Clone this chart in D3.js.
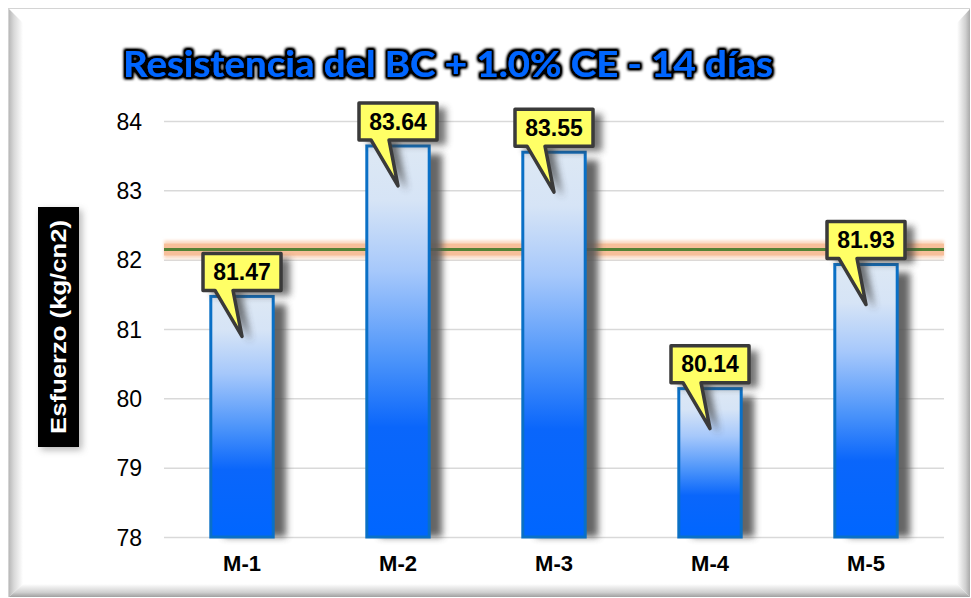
<!DOCTYPE html>
<html>
<head>
<meta charset="utf-8">
<script src="https://cdn.jsdelivr.net/npm/d3@7"></script>
<style>
  html, body { margin: 0; padding: 0; background: #ffffff; }
  svg { display: block; }
</style>
</head>
<body>
<svg id="chart" width="971" height="598"></svg>
<script>
// Compressive strength per sample, 14 days
const categories = ["M-1", "M-2", "M-3", "M-4", "M-5"];
const values = [81.47, 83.64, 83.55, 80.14, 81.93];
const yTicks = [78, 79, 80, 81, 82, 83, 84];
const titleText = "Resistencia del BC + 1.0% CE - 14 días";
const yLabel = "Esfuerzo (kg/cn2)";

const W = 971, H = 598;
const margin = { top: 121, right: 27, bottom: 61, left: 164 };
const svg = d3.select("#chart");
const defs = svg.append("defs");
const sans = "'Liberation Sans', Arial, sans-serif";

// gradients and filters
const barGrad = defs.append("linearGradient").attr("id", "barGrad")
  .attr("x1", 0).attr("y1", 0).attr("x2", 0).attr("y2", 1);
[[0, "#dde8f4"], [0.14, "#d6e4f6"], [0.32, "#a6c8fb"], [0.55, "#4a93fa"], [0.72, "#0a66fb"], [1, "#0066ff"]]
  .forEach(([o, c]) => barGrad.append("stop").attr("offset", o).attr("stop-color", c));

const blur = defs.append("filter").attr("id", "shadowBlur")
  .attr("x", "-50%").attr("y", "-20%").attr("width", "200%").attr("height", "140%");
blur.append("feGaussianBlur").attr("stdDeviation", 3.5);

const glow = defs.append("filter").attr("id", "titleGlow")
  .attr("x", "-10%").attr("y", "-40%").attr("width", "120%").attr("height", "180%");
glow.append("feMorphology").attr("in", "SourceAlpha").attr("operator", "dilate").attr("radius", 1.5).attr("result", "d");
glow.append("feGaussianBlur").attr("in", "d").attr("stdDeviation", 1.8).attr("result", "b");
glow.append("feComponentTransfer").attr("in", "b").attr("result", "b2")
  .append("feFuncA").attr("type", "linear").attr("slope", 1.6);
const gm = glow.append("feMerge");
gm.append("feMergeNode").attr("in", "b2");
gm.append("feMergeNode").attr("in", "SourceGraphic");

const avgGlow = defs.append("filter").attr("id", "avgGlow")
  .attr("x", "-5%").attr("y", "-200%").attr("width", "110%").attr("height", "500%");
avgGlow.append("feGaussianBlur").attr("stdDeviation", 1.8);

// frame: raised panel with bevelled edges
svg.append("rect").attr("x", 8.5).attr("y", 8.5).attr("width", W - 10).attr("height", H - 10)
  .attr("fill", "#ffffff").attr("stroke", "#d4d4d4").attr("stroke-width", 1);
const lg = defs.append("linearGradient").attr("id", "bevL").attr("x1", 0).attr("x2", 1).attr("y1", 0).attr("y2", 0);
[[0, "#b9b9b9"], [0.35, "#d8d8d8"], [1, "#ffffff"]].forEach(([o, c]) => lg.append("stop").attr("offset", o).attr("stop-color", c));
const rg = defs.append("linearGradient").attr("id", "bevR").attr("x1", 1).attr("x2", 0).attr("y1", 0).attr("y2", 0);
[[0, "#a9a9a9"], [0.35, "#d0d0d0"], [1, "#ffffff"]].forEach(([o, c]) => rg.append("stop").attr("offset", o).attr("stop-color", c));
const bg = defs.append("linearGradient").attr("id", "bevB").attr("x1", 0).attr("x2", 0).attr("y1", 1).attr("y2", 0);
[[0, "#a0a0a0"], [0.35, "#cfcfcf"], [1, "#ffffff"]].forEach(([o, c]) => bg.append("stop").attr("offset", o).attr("stop-color", c));
svg.append("polygon").attr("points", `9,9 23,23 23,${H - 14} 9,${H - 1}`).attr("fill", "url(#bevL)");
svg.append("polygon").attr("points", `${W - 1},9 ${W - 14},23 ${W - 14},${H - 14} ${W - 1},${H - 1}`).attr("fill", "url(#bevR)");
svg.append("polygon").attr("points", `9,${H - 1} 23,${H - 14} ${W - 14},${H - 14} ${W - 1},${H - 1}`).attr("fill", "url(#bevB)");

// scales
const x = d3.scaleBand().domain(categories).range([margin.left, W - margin.right]).paddingInner(0.6).paddingOuter(0.3);
const y = d3.scaleLinear().domain([78, 84]).range([H - margin.bottom, margin.top]);

// gridlines and y axis
const yAxis = d3.axisLeft(y).tickValues(yTicks).tickSize(-(W - margin.right - margin.left)).tickFormat(d3.format("d"));
const yg = svg.append("g").attr("transform", `translate(${margin.left},0)`).call(yAxis)
  .attr("font-family", sans).attr("font-size", 23);
yg.select(".domain").remove();
yg.selectAll(".tick line").attr("stroke", "#d9d9d9").attr("stroke-width", 1.5);
yg.selectAll(".tick text").attr("x", -22).attr("dy", "0.36em").attr("fill", "#000");

// x axis labels
const xg = svg.append("g").attr("transform", `translate(0,${H - margin.bottom})`)
  .call(d3.axisBottom(x).tickSize(0).tickPadding(18))
  .attr("font-family", sans).attr("font-size", 22).attr("font-weight", "bold");
xg.select(".domain").remove();
xg.selectAll(".tick text").attr("fill", "#000");

// average line with soft glow
const mean = d3.mean(values);
const avg = svg.append("g");
avg.append("rect").attr("x", margin.left).attr("width", W - margin.right - margin.left)
  .attr("y", y(mean) - 9).attr("height", 18).attr("fill", "#fad9c3").attr("filter", "url(#avgGlow)");
avg.append("rect").attr("x", margin.left).attr("width", W - margin.right - margin.left)
  .attr("y", y(mean) - 6).attr("height", 12).attr("fill", "#f7bf9a");
avg.append("line").attr("x1", margin.left).attr("x2", W - margin.right)
  .attr("y1", y(mean)).attr("y2", y(mean)).attr("stroke", "#548235").attr("stroke-width", 3);

// bars with drop shadows
const bars = svg.append("g").selectAll("g").data(categories).join("g");
bars.append("rect")
  .attr("x", d => x(d) + 13).attr("y", (d, i) => y(values[i]) + 8)
  .attr("width", x.bandwidth()).attr("height", (d, i) => y(78) - y(values[i]) - 8)
  .attr("fill", "#555555").attr("opacity", 0.9).attr("filter", "url(#shadowBlur)");
bars.append("rect")
  .attr("x", d => x(d)).attr("y", (d, i) => y(values[i]))
  .attr("width", x.bandwidth()).attr("height", (d, i) => y(78) - y(values[i]))
  .attr("fill", "url(#barGrad)").attr("stroke", "#0a70c6").attr("stroke-width", 3);

// callout labels
const bw = 78, bh = 37;
function calloutPath(d, i) {
  const cx = x(d) + x.bandwidth() / 2;
  const top = y(values[i]);
  const bottom = top - 6;
  const l = cx - bw / 2, r = cx + bw / 2, t = bottom - bh;
  const tipY = top + 40;
  return `M${l},${t} H${r} V${bottom} H${cx - 9} L${cx},${tipY} L${cx - 27},${bottom} H${l} Z`;
}
const callouts = svg.append("g").selectAll("g").data(categories).join("g");
callouts.append("path").attr("d", calloutPath)
  .attr("transform", "translate(9,5)").attr("fill", "#3a3a3a").attr("opacity", 0.7).attr("filter", "url(#shadowBlur)");
callouts.append("path").attr("d", calloutPath)
  .attr("fill", "#ffff66").attr("stroke", "#3a3a3a").attr("stroke-width", 3.5).attr("stroke-linejoin", "round");
callouts.append("text")
  .attr("x", d => x(d) + x.bandwidth() / 2)
  .attr("y", (d, i) => y(values[i]) - 6 - bh / 2)
  .attr("dy", "0.36em").attr("text-anchor", "middle")
  .attr("font-family", sans).attr("font-weight", "bold").attr("font-size", 23)
  .attr("fill", "#000").text((d, i) => d3.format(".2f")(values[i]));

// y axis title on black box
const yl = svg.append("g").attr("transform", "translate(58,327)");
yl.append("rect").attr("x", -20).attr("y", -120).attr("width", 41).attr("height", 240)
  .attr("fill", "#6f6f6f").attr("opacity", 0.5).attr("transform", "translate(3,3)").attr("filter", "url(#shadowBlur)");
yl.append("rect").attr("x", -20).attr("y", -120).attr("width", 41).attr("height", 240).attr("fill", "#000");
yl.append("text").attr("transform", "rotate(-90)").attr("text-anchor", "middle").attr("dy", "0.36em")
  .attr("font-family", sans).attr("font-weight", "bold").attr("font-size", 22)
  .attr("textLength", 214).attr("lengthAdjust", "spacingAndGlyphs")
  .attr("fill", "#fff").text(yLabel);

// title
svg.append("text").attr("x", 448).attr("y", 77).attr("text-anchor", "middle")
  .attr("font-family", "Lato, 'Open Sans', sans-serif").attr("font-weight", "bold").attr("font-size", 37)
  .attr("textLength", 650).attr("lengthAdjust", "spacingAndGlyphs")
  .attr("fill", "#0066ff").attr("filter", "url(#titleGlow)").text(titleText);
</script>
</body>
</html>
